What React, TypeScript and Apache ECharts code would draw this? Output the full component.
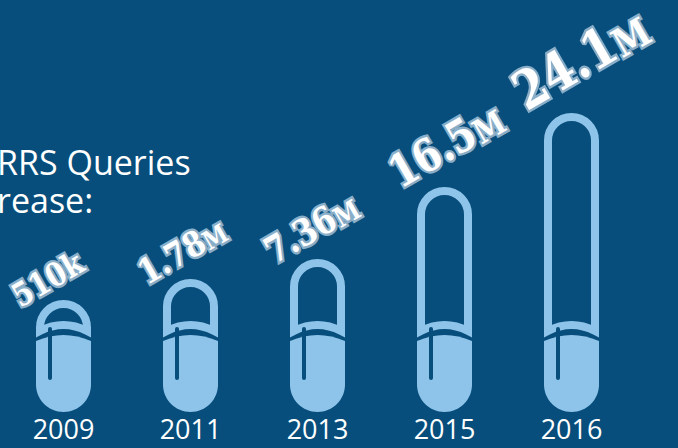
import React, { useEffect, useRef } from "react";
import * as echarts from "echarts";

// ---- data ----
const years = ["2009", "2011", "2013", "2015", "2016"];
const queryCounts = [510000, 1780000, 7360000, 16500000, 24100000];
// visual capsule height (arbitrary units on the hidden value axis)
const capsuleLevels = [112, 133, 153, 225, 299];
const titleLines = ["RRS Queries", "rease:"];

const BG = "#074e7c";
const PILL = "#8fc4ea";
const LABEL_STROKE = "#8aaec8";

function fmt(v: number): [string, string, boolean] {
  if (v < 1e6) return [String(v / 1000), "k", false];
  return [(v / 1e6).toPrecision(3), "M", true];
}

export default function App() {
  const ref = useRef<HTMLDivElement>(null);
  useEffect(() => {
    if (!ref.current) return;
    const chart = echarts.init(ref.current, undefined, { renderer: "svg" });
    const k = 0.5523;
    const option: any = {
      animation: false,
      backgroundColor: BG,
      grid: { left: 0, right: 43, top: 0, bottom: 36, containLabel: false },
      xAxis: {
        type: "category",
        data: years,
        axisLine: { show: false },
        axisTick: { show: false },
        splitLine: { show: false },
        axisLabel: {
          color: "#ffffff",
          fontFamily: "Open Sans",
          fontSize: 27,
          margin: 3,
        },
      },
      yAxis: {
        type: "value",
        min: 0,
        max: 412,
        show: false,
        splitLine: { show: false },
      },
      graphic: titleLines.map((line, i) => ({
        type: "text",
        x: -3,
        y: 145 + i * 38,
        style: {
          text: line,
          fill: "#ffffff",
          font: '34px "Open Sans"',
          lineHeight: 34,
        },
      })),
      series: [
        {
          type: "custom",
          data: years.map((_, i) => [i, capsuleLevels[i], queryCounts[i]]),
          renderItem: (params: any, api: any) => {
            const level = api.value(1);
            const count = api.value(2);
            const base = api.coord([api.value(0), 0]);
            const topP = api.coord([api.value(0), level]);
            const cx = base[0];
            const yb = base[1];
            const yt = topP[1];
            const r = 27.5;
            const sw = 8;
            const a = r - sw / 2;
            const arch = 6;
            const ys = yb - 71; // top of filled lower half (at sides)
            const yband = ys - 10; // centre line of the curved band
            const yc = yt + sw / 2 + a;
            const shell =
              `M ${cx - a} ${yband} L ${cx - a} ${yc} ` +
              `C ${cx - a} ${yc - k * a} ${cx - k * a} ${yc - a} ${cx} ${yc - a} ` +
              `C ${cx + k * a} ${yc - a} ${cx + a} ${yc - k * a} ${cx + a} ${yc} ` +
              `L ${cx + a} ${yband} Q ${cx} ${yband - 2 * arch} ${cx - a} ${yband} Z`;
            const ycb = yb - r;
            const lower =
              `M ${cx - r} ${ys} Q ${cx} ${ys - 2 * arch} ${cx + r} ${ys} ` +
              `L ${cx + r} ${ycb} ` +
              `C ${cx + r} ${ycb + k * r} ${cx + k * r} ${yb} ${cx} ${yb} ` +
              `C ${cx - k * r} ${yb} ${cx - r} ${ycb + k * r} ${cx - r} ${ycb} Z`;
            const [num, unit, small] = fmt(count);
            const fs = 20 + level * 0.11;
            const common = {
              fontFamily: '"DejaVu Serif"',
              fontWeight: "bold",
              fill: "#ffffff",
              stroke: LABEL_STROKE,
              lineWidth: 5,
              verticalAlign: "bottom",
            };
            return {
              type: "group",
              children: [
                {
                  type: "path",
                  shape: { pathData: shell },
                  style: { fill: "none", stroke: PILL, lineWidth: sw, lineJoin: "miter" },
                },
                {
                  type: "path",
                  shape: { pathData: lower },
                  style: { fill: PILL, stroke: "none" },
                },
                {
                  type: "line",
                  shape: { x1: cx - 13.5, y1: ys - 12, x2: cx - 13.5, y2: yb - 34 },
                  style: { stroke: BG, lineWidth: 4, lineCap: "round" },
                },
                {
                  type: "text",
                  x: cx - 41,
                  y: yt + 16 - level * 0.035,
                  rotation: (30 * Math.PI) / 180,
                  scaleX: 0.85,
                  style: {
                    text: `{n|${num}}{u|${unit}}`,
                    align: "left",
                    verticalAlign: "bottom",
                    rich: {
                      n: { ...common, fontSize: fs },
                      u: { ...common, fontSize: small ? fs * 0.74 : fs },
                    },
                  },
                },
              ],
            };
          },
        },
      ],
    };
    chart.setOption(option);
    return () => chart.dispose();
  }, []);
  return (
    <div
      ref={ref}
      style={{ position: "fixed", left: 0, top: 0, width: 678, height: 448 }}
    />
  );
}
